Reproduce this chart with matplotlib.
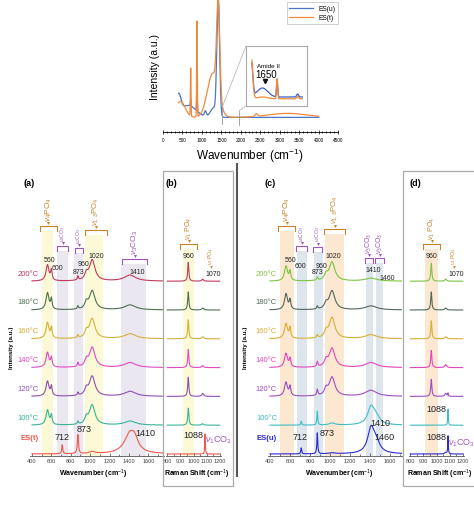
import numpy as np
import matplotlib
matplotlib.use("Agg")
import matplotlib.pyplot as plt
from matplotlib.patches import Rectangle, ConnectionPatch
from matplotlib.lines import Line2D
from matplotlib.ticker import MultipleLocator

plt.rcParams["font.family"] = ["Liberation Sans", "DejaVu Sans"]
plt.rcParams["mathtext.fontset"] = "custom"
plt.rcParams["mathtext.rm"] = "Liberation Sans"
plt.rcParams["mathtext.it"] = "Liberation Sans:italic"
plt.rcParams["mathtext.bf"] = "Liberation Sans:bold"

W, H = 474, 510

# ---------------- overview spectra (gaussian bands on a flat baseline)
top_base = 0.11
u_centre = [400, 650, 712, 873, 1090, 1300, 1420]
u_height = [0.14, 0.09, 0.05, 0.16, 0.04, 0.07, 0.88]
u_sigma = [60, 200, 8, 8, 25, 80, 35]
t_centre = [450, 712, 873, 1280, 1420, 2400, 3200]
t_height = [0.12, 0.36, 0.72, 0.33, 0.69, 0.02, 0.03]
t_sigma = [120, 8, 8, 140, 40, 30, 500]

# zoomed inset 1530-1960 cm-1 (amide II region)
in_centre = [1525, 1620, 1745, 1920]
in_sigma = [12, 45, 5, 8]
in_u_height = [0.60, 0.15, 0.30, 0.05]
in_t_height = [0.70, 0.03, 0.33, 0.04]
in_u_base, in_t_base = 0.15, 0.12

# ---------------- stacked spectra, lorentz bands
temps = ["200°C", "180°C", "160°C", "140°C", "120°C", "100°C"]
names_t = temps + ["ES(t)"]
names_u = temps + ["ES(u)"]
colors_t = ["#C23A5E", "#4F7052", "#D6B03C", "#E04AC6", "#8E50B2", "#38B497", "#F0584A"]
colors_u = ["#7DC443", "#53685A", "#D8AE38", "#E246BE", "#9B4FC4", "#3EBDC2", "#2B2BD0"]

wide_pos = [560, 600, 712, 873, 960, 1020, 1410, 1460]
hw_heated = [18, 9, 6, 7, 18, 35, 70, 40]
hw_carb = [18, 9, 5, 5, 18, 35, 40, 45]

a_heights = [
    [16, 10, 0, 4, 6, 21, 6, 0],
    [17, 10, 0, 3, 6, 19, 5, 0],
    [16, 10, 0, 3, 6, 20, 5, 0],
    [15, 9, 0, 4, 6, 20, 5, 0],
    [15, 9, 0, 3, 6, 20, 5, 0],
    [15, 9, 0, 3, 6, 20, 4, 0],
    [0, 0, 9, 19, 0, 2, 20, 8],
]
c_heights = [
    [15, 9, 0, 3, 5, 19, 3, 0],
    [16, 9, 0, 3, 5, 19, 4, 0],
    [15, 10, 0, 3, 6, 21, 4, 0],
    [14, 8, 0, 5, 6, 19, 5, 0],
    [14, 9, 0, 6, 6, 19, 6, 0],
    [0, 0, 4, 14, 0, 2, 17, 7],
    [0, 0, 6, 21, 0, 1, 24, 10],
]

narrow_pos = [960, 1070, 1088]
narrow_hw = [5, 8, 2.5]
b_heights = [[19, 2, 0], [18, 2, 0], [19, 2, 0], [18, 2, 0], [19, 3, 0], [17, 1.5, 0], [0, 0, 20]]
d_heights = [[18, 2, 0], [18, 2, 0], [18, 2, 0], [17, 3, 0], [17, 3, 3], [0, 0, 16], [0, 1.5, 18]]

ORANGE = "#C8832A"
PURPLE = "#9B58B8"
YELLOW = "#FBF9D6"
LAV = "#EAE7F0"
PEACH = "#FCE7D0"
BLUEGREY = "#DDE6ED"

BOT, TOP = 457, 190
SPACING = 28.8


def box(x0, y0, x1, y1):
    return [x0 / W, 1 - y1 / H, (x1 - x0) / W, (y1 - y0) / H]


def gauss(x, centres, heights, sigmas):
    y = np.zeros_like(x)
    for c, h, s in zip(centres, heights, sigmas):
        y += h * np.exp(-(x - c) ** 2 / (2 * s ** 2))
    return y


def lorentz(x, centres, heights, widths):
    y = np.zeros_like(x)
    for c, h, w in zip(centres, heights, widths):
        y += h * w ** 2 / ((x - c) ** 2 + w ** 2)
    return y


def yd(py):
    return BOT - py


def base(i):
    return (6 - i) * SPACING + 2


def style_bottom(ax, xlim, major, minor):
    ax.set_xlim(*xlim)
    ax.set_ylim(0, BOT - TOP)
    for s in ("left", "right", "top"):
        ax.spines[s].set_visible(False)
    ax.spines["bottom"].set_color("#555555")
    ax.spines["bottom"].set_linewidth(0.6)
    ax.set_yticks([])
    ax.xaxis.set_major_locator(MultipleLocator(major))
    ax.xaxis.set_minor_locator(MultipleLocator(minor))
    ax.tick_params(axis="x", which="both", direction="in", width=0.5, labelsize=4,
                   pad=1.5, colors="#444444")
    ax.tick_params(axis="x", which="major", length=2.2)
    ax.tick_params(axis="x", which="minor", length=1.2)
    ax.patch.set_alpha(0)


def band(ax, x0, x1, py, color):
    ax.fill_between([x0, x1], 0, yd(py), color=color, lw=0, zorder=0)


def bracket(ax, x0, x1, py, color, label, fs):
    y = yd(py)
    xm = (x0 + x1) / 2
    ax.plot([x0, x0, x1, x1], [y - 5, y, y, y - 5], color=color, lw=0.8, clip_on=False)
    ax.plot(xm, y + 3, marker="v", ms=2.2, color=color, mew=0, clip_on=False)
    if label:
        ax.text(xm, y + 5.5, label, rotation=90, ha="center", va="bottom",
                fontsize=fs, color=color, clip_on=False)


def note(ax, x, py, s, fs=5, color="#222222", **kw):
    ax.text(x, yd(py), s, ha="center", va="center", fontsize=fs, color=color,
            clip_on=False, **kw)


fig = plt.figure(figsize=(W / 100, H / 100), dpi=100)
fig.patch.set_facecolor("white")

# ---------------- top overview
ax_top = fig.add_axes(box(163, 0, 338, 133))
xt = np.linspace(400, 4000, 3000)
ax_top.plot(xt, top_base + gauss(xt, u_centre, u_height, u_sigma), color="#4A78C8", lw=0.9, label="ES(u)")
ax_top.plot(xt, top_base + gauss(xt, t_centre, t_height, t_sigma), color="#F08A3C", lw=0.9, label="ES(t)")
ax_top.set_xlim(0, 4500)
ax_top.set_ylim(0, 1)
for s in ("left", "right", "top"):
    ax_top.spines[s].set_visible(False)
ax_top.spines["bottom"].set_linewidth(0.6)
ax_top.set_yticks([])
ax_top.xaxis.set_major_locator(MultipleLocator(500))
ax_top.xaxis.set_minor_locator(MultipleLocator(100))
ax_top.tick_params(axis="x", which="both", direction="inout", width=0.5, labelsize=3.4, pad=2)
ax_top.tick_params(axis="x", which="major", length=3)
ax_top.tick_params(axis="x", which="minor", length=1.5)
ax_top.patch.set_alpha(0)
ax_top.plot([1526, 1526], [0.06, 0.19], color="#999999", lw=0.6)
ax_top.plot([1961, 1961], [0.05, 0.16], color="#999999", lw=0.6)
leg = ax_top.legend(loc="upper right", bbox_to_anchor=(1.02, 1.0), fontsize=4.8, frameon=True,
                    handlelength=3.6, borderpad=0.4, labelspacing=0.3, fancybox=False)
leg.get_frame().set_edgecolor("#AAAAAA")
leg.get_frame().set_linewidth(0.5)
fig.text(250 / W, 1 - 156 / H, "Wavenumber (cm$^{-1}$)", ha="center", va="center", fontsize=8.5)
fig.text(155 / W, 1 - 67 / H, "Intensity (a.u.)", ha="center", va="center", rotation=90, fontsize=7.5)

ax_in = fig.add_axes(box(246, 47, 307, 107))
xi = np.linspace(1530, 1960, 600)
ax_in.plot(xi, in_u_base + gauss(xi, in_centre, in_u_height, in_sigma), color="#3C5FC0", lw=0.9)
ax_in.plot(xi, in_t_base + gauss(xi, in_centre, in_t_height, in_sigma), color="#F08A3C", lw=0.9)
ax_in.set_xlim(1480, 2000)
ax_in.set_ylim(0, 1)
ax_in.set_xticks([])
ax_in.set_yticks([])
for s in ax_in.spines.values():
    s.set_color("#AAAAAA")
    s.set_linewidth(0.8)
ax_in.text(1675, 0.67, "Amide II", ha="center", va="center", fontsize=4.5)
ax_in.text(1650, 0.53, "1650", ha="center", va="center", fontsize=7)
ax_in.plot(1640, 0.41, marker="v", ms=3, color="#111111")
for xa, ya, yb in ((1526, 0.19, 1), (1961, 0.16, 0)):
    con = ConnectionPatch(xyA=(xa, ya), coordsA="data", axesA=ax_top,
                          xyB=(0, yb), coordsB="axes fraction", axesB=ax_in,
                          color="#BBBBBB", lw=0.6)
    fig.add_artist(con)

# ---------------- stacked panels
xw = np.linspace(400, 1745, 1600)
xn = np.linspace(800, 1200, 1200)

ax_a = fig.add_axes(box(30, TOP, 164, BOT))
ax_b = fig.add_axes(box(166, TOP, 221, BOT))
ax_c = fig.add_axes(box(268, TOP, 402, BOT))
ax_d = fig.add_axes(box(409, TOP, 464, BOT))
style_bottom(ax_a, (380, 1760), 200, 100)
style_bottom(ax_c, (380, 1720), 200, 100)
style_bottom(ax_b, (790, 1210), 100, 50)
style_bottom(ax_d, (790, 1210), 100, 50)

# bands and brackets (a)
band(ax_a, 500, 615, 232, YELLOW)
band(ax_a, 660, 770, 252, LAV)
band(ax_a, 835, 925, 254, LAV)
band(ax_a, 950, 1130, 236, YELLOW)
band(ax_a, 1320, 1570, 265, LAV)
bracket(ax_a, 483, 658, 227, ORANGE, r"$\nu_4$PO$_4$", 6)
bracket(ax_a, 662, 771, 247, PURPLE, r"$\nu_4$CO$_3$", 3.6)
bracket(ax_a, 843, 926, 249, PURPLE, r"$\nu_2$CO$_3$", 3.6)
bracket(ax_a, 946, 1173, 231, ORANGE, r"$\nu_{1,3}$PO$_4$", 5.5)
bracket(ax_a, 1328, 1585, 260, PURPLE, r"$\nu_3$CO$_3$", 6)

# bands and brackets (c)
band(ax_c, 500, 640, 232, PEACH)
band(ax_c, 665, 765, 252, BLUEGREY)
band(ax_c, 835, 925, 253, BLUEGREY)
band(ax_c, 945, 1140, 235, PEACH)
band(ax_c, 1360, 1430, 264, BLUEGREY)
band(ax_c, 1455, 1530, 264, BLUEGREY)
bracket(ax_c, 480, 650, 227, ORANGE, r"$\nu_4$PO$_4$", 6)
bracket(ax_c, 662, 770, 247, PURPLE, r"$\nu_4$CO$_3$", 3.6)
bracket(ax_c, 830, 922, 248, PURPLE, r"$\nu_2$CO$_3$", 3.6)
bracket(ax_c, 940, 1150, 230, ORANGE, r"$\nu_{1,3}$PO$_4$", 5.5)
bracket(ax_c, 1350, 1432, 259, PURPLE, r"$\nu_3$CO$_3$", 5)
bracket(ax_c, 1450, 1540, 259, PURPLE, r"$\nu_3$CO$_3$", 5)

# (b) and (d) bands/brackets
band(ax_b, 920, 1005, 250, YELLOW)
band(ax_d, 910, 1010, 250, PEACH)
for ax in (ax_b, ax_d):
    bracket(ax, 900, 1025, 245, ORANGE, r"$\nu_1$ PO$_4$", 5)
    ax.plot(1130, yd(268), marker="v", ms=2, color=ORANGE, mew=0, clip_on=False)
    ax.text(1130, yd(265), r"$\nu_1$ PO$_4$", rotation=90, ha="center", va="bottom",
            fontsize=3.8, color=ORANGE, clip_on=False)
    note(ax, 962, 256, "960", 5)
    note(ax, 1150, 275, "1070", 5)

# spectra
for i, (name, col, hts) in enumerate(zip(names_t, colors_t, a_heights)):
    ax_a.plot(xw, base(i) + lorentz(xw, wide_pos, hts, hw_heated), color=col, lw=0.8)
    es = name.startswith("ES")
    ax_a.text(472, base(i) + (16 if es else 8), name, ha="right", va="center",
              fontsize=5.5, color=col, fontweight="bold" if es else "normal")
for i, (name, col, hts) in enumerate(zip(names_u, colors_u, c_heights)):
    widths = hw_carb if i >= 5 else hw_heated
    ax_c.plot(xw, base(i) + lorentz(xw, wide_pos, hts, widths), color=col, lw=0.8)
    es = name.startswith("ES")
    ax_c.text(472, base(i) + (16 if es else 8), name, ha="right", va="center",
              fontsize=5.5, color=col, fontweight="bold" if es else "normal")
for i, (col, hts) in enumerate(zip(colors_t, b_heights)):
    ax_b.plot(xn, base(i) + lorentz(xn, narrow_pos, hts, narrow_hw), color=col, lw=0.8)
for i, (col, hts) in enumerate(zip(colors_u, d_heights)):
    ax_d.plot(xn, base(i) + lorentz(xn, narrow_pos, hts, narrow_hw), color=col, lw=0.8)

# peak labels (a)
note(ax_a, 585, 261, "560")
note(ax_a, 665, 268, "600")
note(ax_a, 936, 265, "960")
note(ax_a, 885, 273, "873")
note(ax_a, 1060, 257, "1020")
note(ax_a, 1482, 272, "1410")
note(ax_a, 710, 438, "712", 6.5)
note(ax_a, 936, 429, "873", 6.5)
note(ax_a, 1565, 433, "1410", 6.5)
# (c)
note(ax_c, 610, 261, "560")
note(ax_c, 705, 267, "600")
note(ax_c, 912, 266, "960")
note(ax_c, 880, 273, "873")
note(ax_c, 1030, 257, "1020")
note(ax_c, 1430, 271, "1410")
note(ax_c, 1570, 279, "1460")
note(ax_c, 700, 438, "712", 6.5)
note(ax_c, 970, 433, "873", 6.5)
note(ax_c, 1500, 424, "1410", 6.5)
note(ax_c, 1540, 438, "1460", 6.5)
# (b), (d) carbonate
note(ax_b, 996, 435, "1088", 6.5)
ax_b.text(1085, yd(440), r"$\nu_1$CO$_3$", ha="left", va="center", fontsize=6.5,
          color=PURPLE, clip_on=False)
note(ax_d, 1000, 410, "1088", 6.5)
note(ax_d, 1000, 437, "1088", 6.5)
ax_d.text(1085, yd(443), r"$\nu_1$CO$_3$", ha="left", va="center", fontsize=6.5,
          color=PURPLE, clip_on=False)

# frames, divider, labels
for x0, x1 in ((163, 233), (403, 480)):
    fig.add_artist(Rectangle((x0 / W, 1 - 487 / H), (x1 - x0) / W, 315 / H,
                             transform=fig.transFigure, fill=False,
                             ec="#AAAAAA", lw=0.9))
fig.add_artist(Line2D([237 / W, 237 / W], [1 - 165 / H, 1 - 477 / H],
                      transform=fig.transFigure, color="#555555", lw=1.5))

for x, s in ((29, "(a)"), (171, "(b)"), (270, "(c)"), (415, "(d)")):
    fig.text(x / W, 1 - 184 / H, s, ha="center", va="center", fontsize=6.5, fontweight="bold")
for x, s in ((93, "Wavenumber (cm$^{-1}$)"), (339, "Wavenumber (cm$^{-1}$)"),
             (197, "Raman Shift (cm$^{-1}$)"), (440, "Raman Shift (cm$^{-1}$)")):
    fig.text(x / W, 1 - 474 / H, s, ha="center", va="center", fontsize=5, fontweight="bold")
for x in (12, 246):
    fig.text(x / W, 1 - 348 / H, "Intensity (a.u.)", ha="center", va="center",
             rotation=90, fontsize=4.5, fontweight="bold")

fig.savefig("out.png", dpi=100, facecolor="white")
